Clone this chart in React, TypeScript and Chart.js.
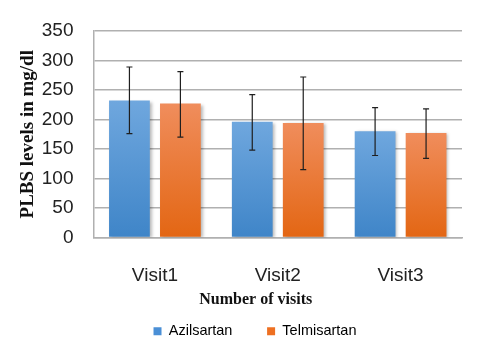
import { useEffect, useRef } from "react";
import { Chart, registerables } from "chart.js";
Chart.register(...registerables);

const categories = ["Visit1", "Visit2", "Visit3"];
const seriesNames = ["Azilsartan", "Telmisartan"];
const azilsartan = [232, 196, 180];
const telmisartan = [227, 194, 177];
const azilsartanHigh = [289, 242, 220];
const azilsartanLow = [176, 148, 139];
const telmisartanHigh = [281, 272, 218];
const telmisartanLow = [170, 115, 134];
const yTicks = [0, 50, 100, 150, 200, 250, 300, 350];

const SANS = "'Liberation Sans', Arial, sans-serif";
const SERIF = "'Liberation Serif', 'Times New Roman', serif";

function gradientFill(top: string, bottom: string, solid: string) {
  return (c: any) => {
    if (c.type !== "data") return solid;
    const chart = c.chart;
    const area = chart.chartArea;
    if (!area) return solid;
    const yTop = chart.scales.y.getPixelForValue(c.raw);
    const g = chart.ctx.createLinearGradient(0, yTop, 0, area.bottom);
    g.addColorStop(0, top);
    g.addColorStop(1, bottom);
    return g;
  };
}

const shadowPlugin = {
  id: "barShadow",
  beforeDatasetDraw(chart: any) {
    const ctx = chart.ctx;
    ctx.save();
    ctx.shadowColor = "rgba(0,0,0,0.28)";
    ctx.shadowBlur = 3;
    ctx.shadowOffsetX = 2;
    ctx.shadowOffsetY = 1;
  },
  afterDatasetDraw(chart: any) {
    chart.ctx.restore();
  },
};

const legendSpanPlugin = {
  id: "legendSpan",
  afterLayout(chart: any) {
    if (chart.legend) {
      chart.legend.left = 8;
      chart.legend.right = chart.width;
    }
  },
};

const errorBarPlugin = {
  id: "errorBars",
  afterDatasetsDraw(chart: any) {
    const ctx = chart.ctx;
    const yScale = chart.scales.y;
    chart.data.datasets.forEach((ds: any, i: number) => {
      const meta = chart.getDatasetMeta(i);
      meta.data.forEach((bar: any, j: number) => {
        const x = bar.x;
        const yHi = yScale.getPixelForValue(ds.errHigh[j]);
        const yLo = yScale.getPixelForValue(ds.errLow[j]);
        ctx.save();
        ctx.strokeStyle = "#1f1f1f";
        ctx.lineWidth = 1.2;
        ctx.beginPath();
        ctx.moveTo(x, yHi);
        ctx.lineTo(x, yLo);
        ctx.moveTo(x - 3, yHi);
        ctx.lineTo(x + 3, yHi);
        ctx.moveTo(x - 3, yLo);
        ctx.lineTo(x + 3, yLo);
        ctx.stroke();
        ctx.restore();
      });
    });
  },
};

export default function App() {
  const ref = useRef<HTMLCanvasElement | null>(null);
  useEffect(() => {
    if (!ref.current) return;
    const legendColors = ["#4a8fd6", "#ee7022"];
    const chart = new Chart(ref.current, {
      type: "bar",
      data: {
        labels: categories,
        datasets: [
          {
            label: seriesNames[0],
            data: azilsartan,
            errHigh: azilsartanHigh,
            errLow: azilsartanLow,
            backgroundColor: gradientFill("#6fa7de", "#3f85c8", legendColors[0]),
            borderWidth: 0,
            categoryPercentage: 0.83,
            barPercentage: 0.8,
          } as any,
          {
            label: seriesNames[1],
            data: telmisartan,
            errHigh: telmisartanHigh,
            errLow: telmisartanLow,
            backgroundColor: gradientFill("#f08d5c", "#e36613", legendColors[1]),
            borderWidth: 0,
            categoryPercentage: 0.83,
            barPercentage: 0.8,
          } as any,
        ],
      },
      options: {
        animation: false,
        responsive: true,
        maintainAspectRatio: false,
        layout: { padding: { top: 23, right: 32, bottom: 0.5, left: 0 } },
        plugins: {
          tooltip: { enabled: false },
          legend: {
            position: "bottom",
            labels: {
              boxWidth: 8,
              boxHeight: 8,
              padding: 10.5,
              color: "#222",
              font: { family: SANS, size: 14.5 },
              generateLabels: () =>
                seriesNames.map((n, i) => ({
                  text: i === 0 ? n + "      " : n,
                  fillStyle: legendColors[i],
                  strokeStyle: legendColors[i],
                  lineWidth: 0,
                  hidden: false,
                  datasetIndex: i,
                })),
            },
          },
        },
        scales: {
          x: {
            grid: {
              display: true,
              drawOnChartArea: false,
              drawTicks: true,
              tickLength: 26,
              tickColor: "rgba(0,0,0,0)",
              color: "rgba(0,0,0,0)",
            },
            border: { display: true, color: "#b0b0b0", width: 1.5 },
            ticks: {
              padding: 1,
              color: "#222",
              font: { family: SANS, size: 19 },
            },
            title: {
              display: true,
              text: "Number of visits" + "           ",
              color: "#111",
              font: { family: SERIF, size: 16, weight: "bold" },
              padding: { top: 2, bottom: 4 },
            },
          },
          y: {
            min: 0,
            max: 350,
            afterBuildTicks: (axis: any) => {
              axis.ticks = yTicks.map((v) => ({ value: v }));
            },
            grid: {
              color: "#b0b0b0",
              lineWidth: 1.5,
              drawTicks: true,
              tickLength: 19,
              tickColor: "rgba(0,0,0,0)",
            },
            border: { display: true, color: "#b0b0b0", width: 1.5 },
            ticks: {
              autoSkip: false,
              padding: 1,
              color: "#222",
              font: { family: SANS, size: 19 },
            },
            title: {
              display: true,
              text: "PLBS levels in mg/dl",
              color: "#111",
              font: { family: SERIF, size: 19, weight: "bold" },
              padding: { top: 9, bottom: 1 },
            },
          },
        },
      },
      plugins: [shadowPlugin, errorBarPlugin, legendSpanPlugin],
    });
    return () => chart.destroy();
  }, []);
  return (
    <div style={{ width: 486, height: 341, position: "relative" }}>
      <canvas ref={ref} />
    </div>
  );
}
